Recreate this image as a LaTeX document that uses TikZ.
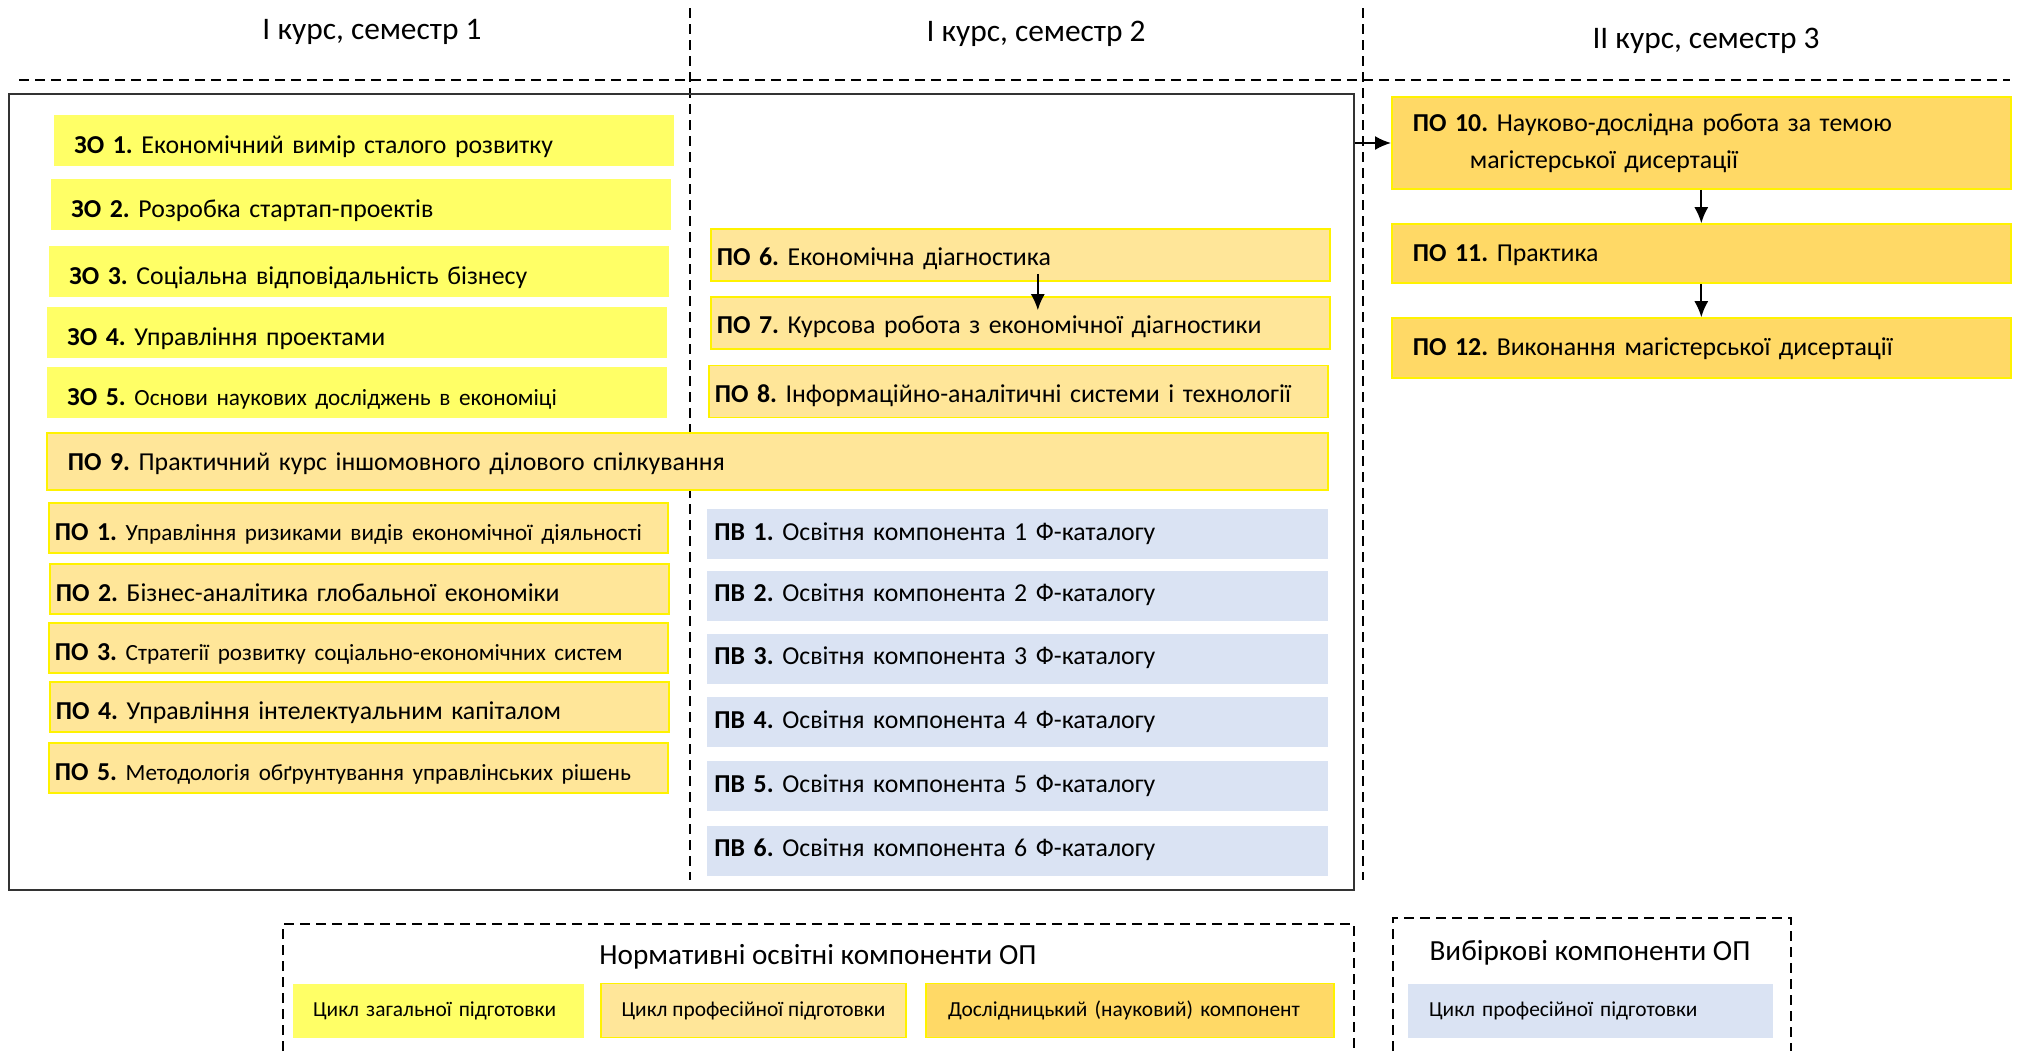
\documentclass[tikz,border=0pt]{standalone}
\usepackage{fontspec}
\setmainfont{Carlito}
\usepackage{tikz}
\usetikzlibrary{arrows.meta, positioning, calc}

\definecolor{zofill}{HTML}{FFFF66}
\definecolor{pofill}{HTML}{FFE699}
\definecolor{ndfill}{HTML}{FFD966}
\definecolor{pvfill}{HTML}{DAE3F3}

\begin{document}
\frenchspacing
\begin{tikzpicture}[x=0.5pt, y=-0.5pt,
    block/.style={anchor=west, inner ysep=0pt, align=left, font=\fontsize{12.9}{18.5}\selectfont},
    zo/.style={block, fill=zofill, minimum height=25.5pt, inner xsep=10pt, text width=290pt, text height=13pt, text depth=0.5pt},
    po/.style={block, fill=pofill, draw=yellow, line width=0.8pt, minimum height=25pt, inner xsep=3pt, text width=303.5pt, text height=13pt, text depth=0.5pt},
    pv/.style={block, fill=pvfill, minimum height=25pt, inner xsep=3.5pt, text width=303.5pt, text height=9pt, text depth=3pt},
    nd/.style={block, fill=ndfill, draw=yellow, line width=0.8pt, inner xsep=10.5pt, text width=288.5pt},
    head/.style={font=\fontsize{15.7}{18}\selectfont},
    title/.style={font=\fontsize{14.6}{17}\selectfont},
    legend/.style={minimum height=27pt, inner ysep=0pt, inner xsep=10pt, align=left, font=\fontsize{10.7}{12}\selectfont},
    sep/.style={dash pattern=on 5pt off 3pt, line width=0.75pt},
    arr/.style={-{Latex[length=8pt, width=7pt]}, line width=0.9pt}
]
    \useasboundingbox (0,0) rectangle (2020,1051);

    % Semesters
    \node[head] (sem1) at (372,32) {І курс, семестр 1};
    \node[head] (sem2) at (1036,34) {І курс, семестр 2};
    \node[head] (sem3) at (1706,41) {ІІ курс, семестр 3};
    \draw[sep] (19,80) -- (2010,80);
    \draw[sep] (690,8) -- (690,880);
    \draw[sep] (1363,8) -- (1363,880);

    % Normative components, first year
    \node[draw=black!80, line width=1.1pt, minimum width=672.5pt, minimum height=398pt, inner sep=0pt] (norm) at (681.5,492) {};

    % General training cycle
    \node[zo] (zo1) at (54,140.5) {\textbf{ЗО 1.} Економічний вимір сталого розвитку};
    \node[zo] (zo2) at (51,204.5) {\textbf{ЗО 2.} Розробка стартап-проектів};
    \node[zo] (zo3) at (49,271.5) {\textbf{ЗО 3.} Соціальна відповідальність бізнесу};
    \node[zo] (zo4) at (47,332.5) {\textbf{ЗО 4.} Управління проектами};
    \node[zo] (zo5) at (47,392.5) {\textbf{ЗО 5.} {\fontsize{11.6}{14}\selectfont Основи наукових досліджень в економіці}};

    % Professional training cycle
    \node[po, minimum height=28.5pt, inner xsep=10.5pt, text width=619.5pt, text height=10pt, text depth=1.5pt] (po9) at (46,461.5) {\textbf{ПО 9.} Практичний курс іншомовного ділового спілкування};
    \node[po] (po1) at (48,528) {\textbf{ПО 1.} {\fontsize{11.6}{14}\selectfont Управління ризиками видів економічної діяльності}};
    \node[po] (po2) at (49,589) {\textbf{ПО 2.} Бізнес-аналітика глобальної економіки};
    \node[po] (po3) at (48,648) {\textbf{ПО 3.} {\fontsize{11.6}{14}\selectfont Стратегії розвитку соціально-економічних систем}};
    \node[po] (po4) at (49,707) {\textbf{ПО 4.} Управління інтелектуальним капіталом};
    \node[po] (po5) at (48,768) {\textbf{ПО 5.} {\fontsize{11.6}{14}\selectfont Методологія обґрунтування управлінських рішень}};
    \node[po, minimum height=26pt, text height=11.5pt, text depth=0.8pt] (po6) at (710,255) {\textbf{ПО 6.} Економічна діагностика};
    \node[po, minimum height=26pt, text height=11.5pt, text depth=0.8pt] (po7) at (710,323) {\textbf{ПО 7.} Курсова робота з економічної діагностики};
    \node[po, minimum height=26pt, text height=11.5pt, text depth=0.8pt] (po8) at (708,391.5) {\textbf{ПО 8.} Інформаційно-аналітичні системи і технології};
    \draw[arr] ([xshift=8.75pt,yshift=4pt]po6.south) -- ([xshift=8.75pt,yshift=-7pt]po7.north);

    % Elective components
    \node[pv] (pv1) at (707,534) {\textbf{ПВ 1.} Освітня компонента 1 Ф-каталогу};
    \node[pv] (pv2) at (707,595.5) {\textbf{ПВ 2.} Освітня компонента 2 Ф-каталогу};
    \node[pv] (pv3) at (707,658.5) {\textbf{ПВ 3.} Освітня компонента 3 Ф-каталогу};
    \node[pv] (pv4) at (707,722) {\textbf{ПВ 4.} Освітня компонента 4 Ф-каталогу};
    \node[pv] (pv5) at (707,786) {\textbf{ПВ 5.} Освітня компонента 5 Ф-каталогу};
    \node[pv] (pv6) at (707,850.5) {\textbf{ПВ 6.} Освітня компонента 6 Ф-каталогу};

    % Research component, second year
    \node[nd, minimum height=46pt] (po10) at (1391,143) {\textbf{ПО 10.} Науково-дослідна робота за темою\\\hspace*{28.5pt}магістерської дисертації};
    \node[nd, minimum height=29.5pt, text height=9.5pt, text depth=2pt] (po11) at (1391,253.5) {\textbf{ПО 11.} Практика};
    \node[nd, minimum height=30pt, text height=9.5pt, text depth=2pt] (po12) at (1391,348) {\textbf{ПО 12.} Виконання магістерської дисертації};
    \draw[arr] (norm.east |- po10.west) -- (po10.west);
    \draw[arr] (po10.south) -- (po11.north);
    \draw[arr] (po11.south) -- (po12.north);

    % Legend
    \draw[sep] (283,1051) |- (1354,924) -- (1354,1051);
    \node[title] (normt) at (818,957) {Нормативні освітні компоненти ОП};
    \node[legend, fill=zofill, minimum width=145.5pt, text width=125.5pt] (lgzo) at (438.5,1010.5) {Цикл загальної підготовки};
    \node[legend, fill=pofill, draw=yellow, line width=0.8pt, minimum width=152.5pt] (lgpo) at (753.5,1010.5) {Цикл професійної підготовки};
    \node[legend, fill=ndfill, draw=yellow, line width=0.8pt, minimum width=204pt, inner xsep=11pt, text width=182pt] (lgnd) at (1130,1010.5) {Дослідницький (науковий) компонент};
    \draw[sep] (1393,1051) |- (1791,918) -- (1791,1051);
    \node[title] (vybt) at (1590,953) {Вибіркові компоненти ОП};
    \node[legend, fill=pvfill, minimum width=182.5pt, inner xsep=10.5pt, text width=161.5pt] (lgpv) at (1590.5,1010.5) {Цикл професійної підготовки};
\end{tikzpicture}
\end{document}
